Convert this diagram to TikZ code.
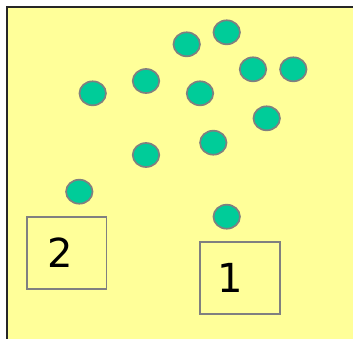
\documentclass[tikz,border=0pt]{standalone}
\usepackage{fontspec}
\setmainfont{DejaVu Sans}
\usetikzlibrary{shapes.geometric}
\definecolor{bgyellow}{HTML}{FFFF99}
\definecolor{dotgreen}{HTML}{00CC99}
\definecolor{edgegray}{HTML}{808080}
\begin{document}
\begin{tikzpicture}[x=1pt,y=-1pt,
  dot/.style={ellipse,draw=edgegray,line width=1.7pt,fill=dotgreen,minimum width=26.5pt,minimum height=24pt,inner sep=0pt},
  binbox/.style={draw=edgegray,line width=1.6pt,minimum width=79.5pt,minimum height=72pt,inner sep=0pt},
  binlabel/.style={font=\fontsize{40}{40}\selectfont,text=black,inner sep=0pt}]
\useasboundingbox (0,0) rectangle (353,338);
\fill[white] (0,0) rectangle (353,338);
\fill[bgyellow] (6,6) rectangle (360,345);
\draw[black!85,line width=2.2pt] (7,345) -- (7,7) -- (360,7);
\node[binbox] (b2) at (66.7,253) {};
\node[binlabel,anchor=base] (l2) at (60.5,267.5) {2};
\node[binbox] (b1) at (240,278) {};
\node[binlabel,anchor=base] (l1) at (230,292) {1};
\node[dot] (d1) at (186.7,44.3) {};
\node[dot] (d2) at (226.7,32.3) {};
\node[dot] (d3) at (253,69.3) {};
\node[dot] (d4) at (293.3,69.3) {};
\node[dot] (d5) at (92.7,93.3) {};
\node[dot] (d6) at (146,81) {};
\node[dot] (d7) at (200,93.3) {};
\node[dot] (d8) at (266.7,118.3) {};
\node[dot] (d9) at (213.3,142.7) {};
\node[dot] (d10) at (146,155) {};
\node[dot] (d11) at (79.3,191.7) {};
\node[dot] (d12) at (226.7,216.7) {};
\end{tikzpicture}
\end{document}
